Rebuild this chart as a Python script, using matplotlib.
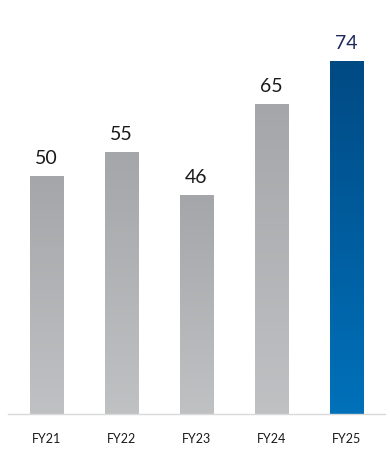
import matplotlib
matplotlib.use("Agg")
import matplotlib.pyplot as plt
import numpy as np
from matplotlib.colors import LinearSegmentedColormap

categories = ["FY21", "FY22", "FY23", "FY24", "FY25"]
values = [50, 55, 46, 65, 74]

plt.rcParams['font.family'] = ['Lato', 'DejaVu Sans']

W, H = 390, 463
fig = plt.figure(figsize=(W/100, H/100), dpi=100)
ax_bottom = (463-414)/H
ax_top_px = 414 - 80*4.77
ax = fig.add_axes([8/W, ax_bottom, (385-8)/W, (414-ax_top_px)/H])

x = np.arange(len(categories))
width = 0.44

gray = LinearSegmentedColormap.from_list("g", ["#c0c1c3", "#a5a6a9"])
blue = LinearSegmentedColormap.from_list("b", ["#0071ba", "#004a84"])

bars = ax.bar(x, values, width=width, color="none", edgecolor="none")
grad = np.linspace(0, 1, 256).reshape(-1, 1)
for i, (b, v) in enumerate(zip(bars, values)):
    cmap = blue if i == len(values)-1 else gray
    x0 = b.get_x()
    im = ax.imshow(grad, cmap=cmap, aspect="auto", origin="lower",
                   extent=[x0, x0+width, 0, v], zorder=2)
    im.set_clip_path(b)
    color = "#1f2a5c" if i == len(values)-1 else "#1a1a1a"
    ax.text(b.get_x()+width/2, v + 2.5, str(v), ha="center", va="baseline",
            fontsize=14, color=color)

ax.set_xlim(-0.513, 4.513)
ax.set_ylim(0, 80)
for s in ["top", "right", "left"]:
    ax.spines[s].set_visible(False)
ax.spines["bottom"].set_color("#d9d9d9")
ax.spines["bottom"].set_linewidth(1.0)
ax.set_yticks([])
ax.set_xticks(x)
ax.set_xticklabels(categories, fontsize=9, color="#1a1a1a")
ax.tick_params(axis="x", length=0, pad=14)

fig.savefig("out.png", dpi=100)
